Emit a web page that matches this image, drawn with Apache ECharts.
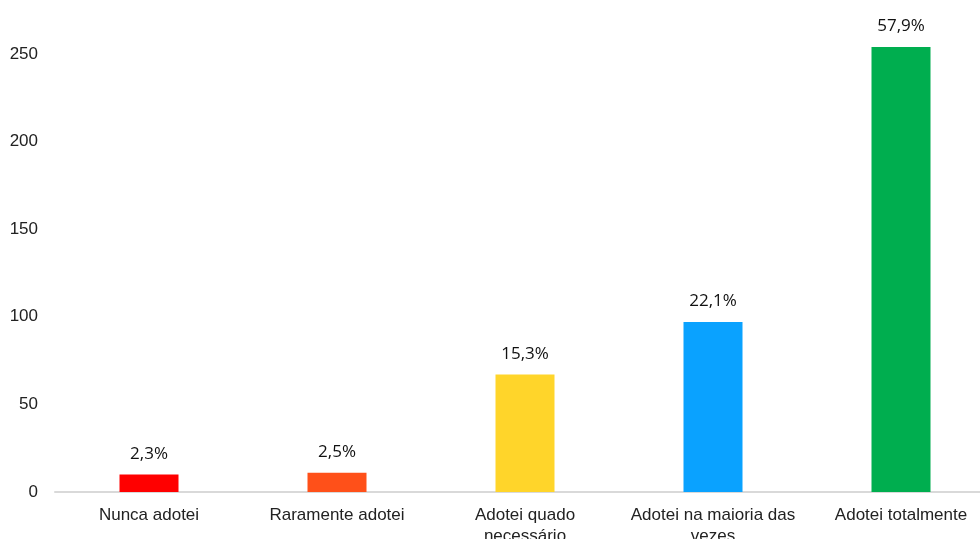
<!DOCTYPE html>
<html>
<head>
<meta charset="utf-8">
<script src="https://cdn.jsdelivr.net/npm/echarts@6/dist/echarts.min.js"></script>
<style>
  html, body { margin: 0; padding: 0; background: #fff; }
  #chart { width: 980px; height: 539px; }
</style>
</head>
<body>
<div id="chart"></div>
<script>
// Response categories
const categories = [
  'Nunca adotei',
  'Raramente adotei',
  'Adotei quado\nnecessário',
  'Adotei na maioria das\nvezes',
  'Adotei totalmente'
];
// Number of respondents per category (n = 439)
const counts = [10, 11, 67, 97, 254];
// Share of respondents, shown above each bar
const percentLabels = ['2,3%', '2,5%', '15,3%', '22,1%', '57,9%'];
// Bar colours
const barColors = ['#FF0000', '#FF5019', '#FFD52A', '#0AA2FF', '#00AE4F'];

const chart = echarts.init(document.getElementById('chart'));
chart.setOption({
  animation: false,
  grid: {
    left: 55, top: 36.5, width: 940, height: 455.5,
    containLabel: false, outerBoundsMode: 'none'
  },
  xAxis: {
    type: 'category',
    data: categories,
    axisLine: { show: true, lineStyle: { color: '#d9d9d9', width: 2 } },
    axisTick: { show: false },
    axisLabel: {
      color: '#222',
      fontFamily: 'Liberation Sans, Arial, sans-serif',
      fontSize: 17,
      lineHeight: 21,
      margin: 13,
      interval: 0
    }
  },
  yAxis: {
    type: 'value',
    min: 0,
    max: 260,
    interval: 50,
    splitLine: { show: false },
    axisLine: { show: false },
    axisTick: { show: false },
    axisLabel: {
      color: '#222',
      fontFamily: 'Liberation Sans, Arial, sans-serif',
      fontSize: 17,
      margin: 17,
      showMaxLabel: false
    }
  },
  series: [{
    type: 'bar',
    barWidth: 59,
    data: counts.map((v, i) => ({ value: v, itemStyle: { color: barColors[i] } })),
    label: {
      show: true,
      position: 'top',
      distance: 12,
      color: '#111',
      fontFamily: 'Open Sans, sans-serif',
      fontSize: 17,
      formatter: p => percentLabels[p.dataIndex]
    }
  }]
});
</script>
</body>
</html>
